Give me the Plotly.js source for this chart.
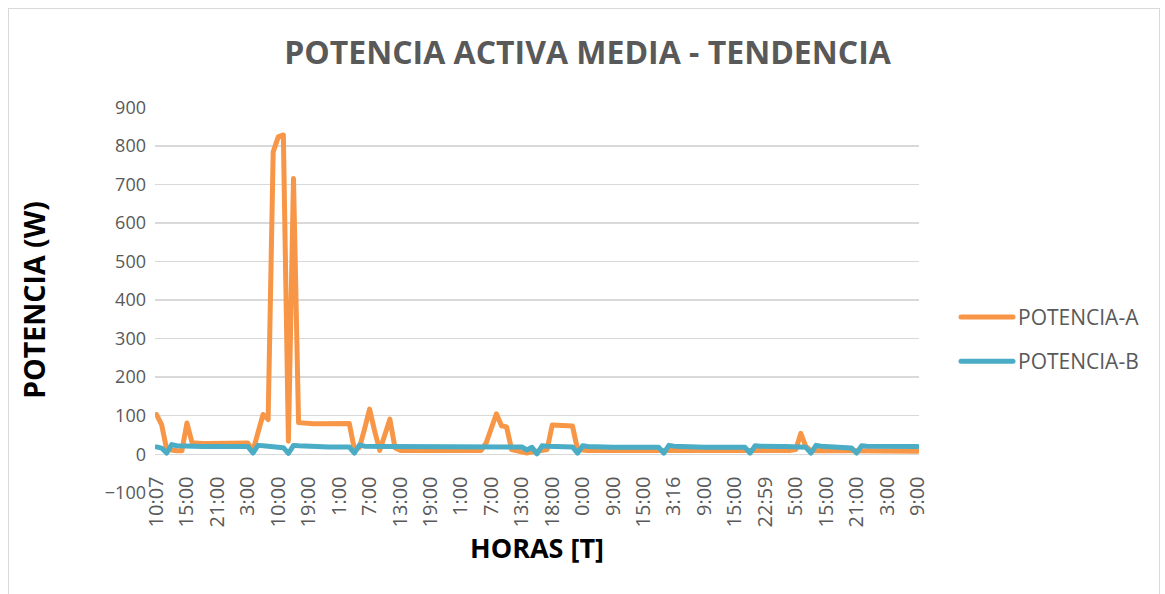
<!DOCTYPE html>
<html>
<head>
<meta charset="utf-8">
<script src="https://cdn.plot.ly/plotly-3.0.1.min.js"></script>
<style>
  html, body { margin: 0; padding: 0; background: #ffffff; }
  #frame { position: absolute; left: 8px; top: 8px; width: 1152px; height: 600px; border: 1px solid #d9d9d9; box-sizing: border-box; }
  #chart { position: absolute; left: 0; top: 0; width: 1165px; height: 594px; }
  .js-line { stroke-linejoin: round; stroke-linecap: round; }
</style>
</head>
<body>
<div id="frame"></div>
<div id="chart"></div>
<script>
// ---- data ----
const tickLabels = ["10:07","15:00","21:00","3:00","10:00","19:00","1:00","7:00","13:00","19:00","1:00","7:00","13:00",
                    "18:00","0:00","9:00","15:00","3:16","9:00","15:00","22:59","5:00","15:00","21:00","3:00","9:00"];
const labelStep = 6; // one tick label every 6 samples

const potenciaA = [
  103, 77, 13, 10, 9, 9, 81, 30, 28, 28,
  28, 28, 28, 28, 28, 29, 29, 29, 29, 9,
  55, 103, 90, 784, 823, 828, 34, 715, 82, 80,
  79, 79, 79, 79, 79, 79, 80, 80, 80, 13,
  17, 65, 117, 60, 10, 50, 91, 17, 10, 10,
  10, 9, 9, 9, 9, 9, 9, 9, 9, 9,
  9, 9, 10, 10, 10, 30, 68, 105, 74, 71,
  12, 9, 6, 3, 6, 9, 9, 12, 76, 76,
  75, 74, 73, 12, 10, 10, 10, 10, 10, 10,
  10, 10, 10, 10, 10, 10, 10, 10, 10, 9,
  7, 9, 10, 10, 10, 10, 10, 10, 10, 10,
  10, 10, 10, 10, 10, 10, 10, 8, 10, 10,
  10, 10, 10, 10, 10, 10, 12, 54, 20, 9,
  10, 10, 10, 10, 10, 9, 9, 9, 7, 9,
  9, 9, 8, 8, 8, 8, 8, 8, 8, 8,
  8
];
const potenciaB = [
  19, 16, 3, 25, 22, 21, 21, 21, 20, 20,
  20, 20, 20, 20, 20, 20, 20, 20, 20, 3,
  23, 22, 21, 20, 19, 17, 2, 23, 22, 21,
  21, 20, 20, 20, 19, 19, 19, 19, 19, 3,
  24, 21, 20, 20, 20, 20, 20, 20, 20, 19,
  19, 19, 19, 19, 19, 19, 19, 19, 19, 19,
  19, 19, 19, 19, 19, 19, 19, 19, 19, 19,
  19, 19, 19, 11, 18, 1, 22, 21, 21, 21,
  20, 20, 19, 3, 22, 20, 19, 19, 18, 18,
  18, 18, 18, 18, 18, 18, 18, 18, 18, 18,
  3, 23, 21, 20, 19, 19, 19, 19, 18, 18,
  18, 18, 18, 18, 18, 18, 18, 3, 22, 21,
  20, 20, 20, 20, 20, 20, 20, 19, 18, 3,
  23, 21, 20, 20, 20, 19, 18, 16, 3, 22,
  21, 21, 20, 20, 20, 20, 20, 20, 20, 20,
  20
];

// ---- build ----
const idx = potenciaA.map((_, i) => i);
const tickVals = tickLabels.map((_, k) => k * labelStep);
const gray = '#595959';
const font = 'Open Sans, sans-serif';

const traces = [
  { x: idx, y: potenciaA, name: 'POTENCIA-A', type: 'scatter', mode: 'lines',
    line: { color: '#F79646', width: 5 }, legendgroup: 'a' },
  { x: idx, y: potenciaB, name: 'POTENCIA-B', type: 'scatter', mode: 'lines',
    line: { color: '#4BACC6', width: 5 }, legendgroup: 'b' }
];

const layout = {
  width: 1165, height: 594,
  paper_bgcolor: 'rgba(0,0,0,0)', plot_bgcolor: 'rgba(0,0,0,0)',
  margin: { l: 155, r: 246, t: 107, b: 100.5, pad: 0 },
  font: { family: font, color: gray },
  title: {
    text: 'POTENCIA ACTIVA MEDIA - TENDENCIA',
    font: { family: font, size: 32, color: gray, weight: 'bold' },
    xref: 'container', x: 587.5 / 1165, xanchor: 'center',
    yref: 'container', y: 1 - 53 / 594, yanchor: 'middle'
  },
  xaxis: {
    range: [-0.3, idx.length - 1 + 0.3],
    anchor: 'free', position: 100 / 1001,
    showgrid: false, zeroline: false, showline: false,
    tickmode: 'array', tickvals: tickVals, ticktext: tickLabels,
    tickangle: -90, ticks: '', ticklabelstandoff: 17,
    tickfont: { family: font, size: 20, color: gray },
    title: { text: 'HORAS [T]', font: { family: font, size: 27, color: '#000000', weight: 'bold' }, standoff: 12 }
  },
  yaxis: {
    range: [-100.5, 900.5],
    tickmode: 'linear', tick0: -100, dtick: 100,
    showgrid: true, gridcolor: '#d9d9d9', gridwidth: 1.5,
    zeroline: false, showline: false, ticks: '', ticklabelstandoff: 8,
    tickfont: { family: font, size: 18, color: gray },
    title: { text: 'POTENCIA (W)', font: { family: font, size: 28.5, color: '#000000', weight: 'bold' }, standoff: 50 }
  },
  showlegend: true,
  legend: {
    x: (956 - 155) / 764, xanchor: 'left',
    y: (493.5 - 297) / 386.5, yanchor: 'top',
    font: { family: font, size: 21, color: gray },
    itemwidth: 52, traceorder: 'grouped', tracegroupgap: 14,
    bgcolor: 'rgba(0,0,0,0)', borderwidth: 0
  }
};

Plotly.newPlot('chart', traces, layout, { displayModeBar: false, staticPlot: true });
</script>
</body>
</html>
